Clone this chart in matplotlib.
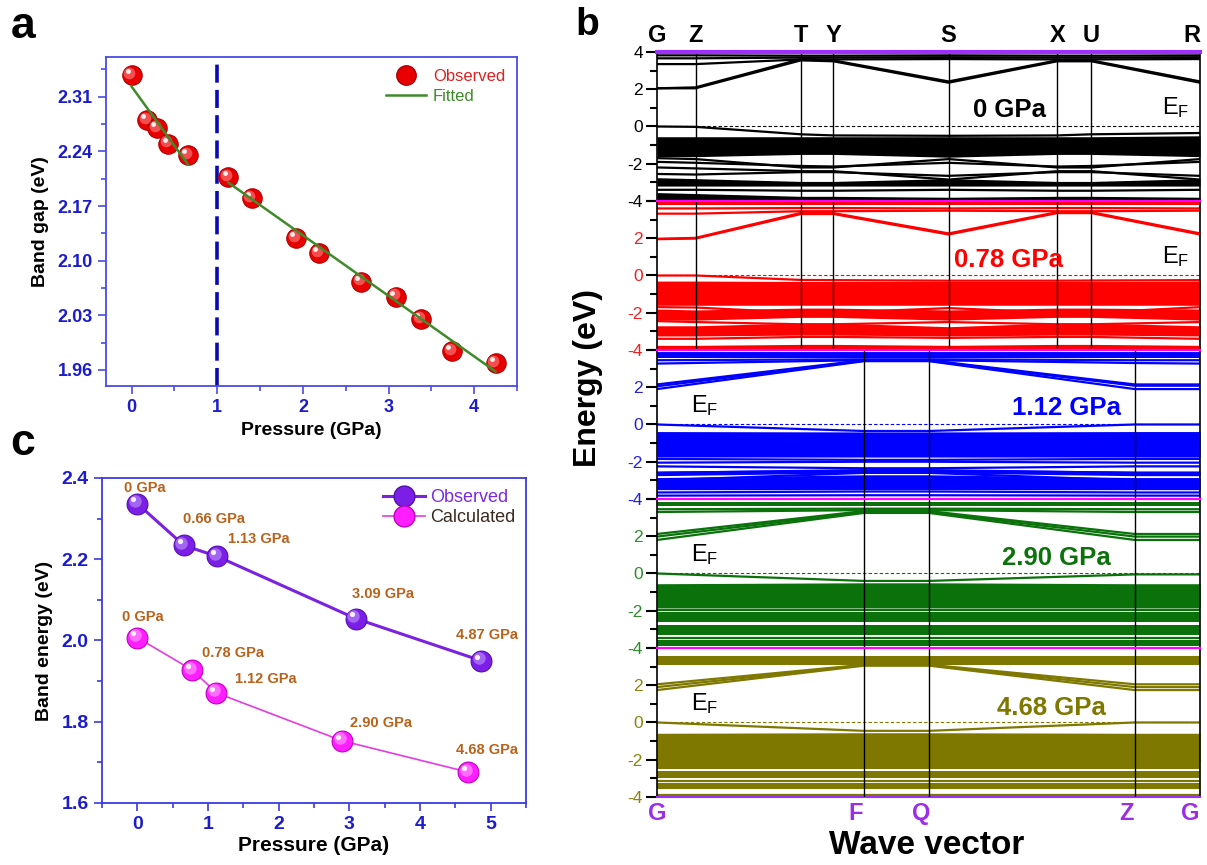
import numpy as np
import matplotlib
matplotlib.use("Agg")
import matplotlib.pyplot as plt
from matplotlib.transforms import offset_copy
from matplotlib.lines import Line2D
from matplotlib.ticker import MultipleLocator

plt.rcParams['font.family'] = ['Liberation Sans', 'DejaVu Sans']
plt.rcParams['mathtext.default'] = 'regular'

# ---- panel a: band gap vs pressure
p_obs = [0.0, 0.18, 0.30, 0.43, 0.66, 1.13, 1.40, 1.92, 2.19, 2.68, 3.09, 3.38, 3.74, 4.25]
gap_obs = [2.338, 2.280, 2.270, 2.250, 2.235, 2.207, 2.180, 2.129, 2.110, 2.073, 2.054, 2.025, 1.984, 1.969]
fit1_p = [0.0, 0.66]
fit1_gap = [2.323, 2.223]
fit2_p = [1.13, 4.25]
fit2_gap = [2.200, 1.958]
p_transition = 1.0

# ---- panel c: observed vs calculated band energy
pc_obs = [0.0, 0.66, 1.13, 3.09, 4.87]
ec_obs = [2.337, 2.234, 2.207, 2.054, 1.950]
lab_obs = ['0 GPa', '0.66 GPa', '1.13 GPa', '3.09 GPa', '4.87 GPa']
pc_calc = [0.0, 0.78, 1.12, 2.90, 4.68]
ec_calc = [2.007, 1.927, 1.871, 1.753, 1.676]
lab_calc = ['0 GPa', '0.78 GPa', '1.12 GPa', '2.90 GPa', '4.68 GPa']
# label offsets in pixels (layout only)
off_obs = [(7, 16), (30, 26), (42, 17), (27, 25), (6, 26)]
off_calc = [(5, 21), (41, 17), (49, 14), (39, 18), (19, 22)]

# ---- panel b: band structures, energies (eV) at high-symmetry points
kpath_a = [0.0, 0.071, 0.265, 0.325, 0.537, 0.737, 0.800, 1.0]
klab_a = ['G', 'Z', 'T', 'Y', 'S', 'X', 'U', 'R']
kpath_b = [0.0, 0.381, 0.501, 0.880, 1.0]
klab_b = ['G', 'F', 'Q', 'Z', 'G']

bands_0 = [
    [2.05, 2.05, 3.55, 3.50, 2.35, 3.50, 3.50, 2.35],
    [2.05, 2.10, 3.62, 3.55, 2.42, 3.55, 3.55, 2.42],
    [3.35, 3.35, 3.60, 3.60, 3.62, 3.60, 3.60, 3.62],
    [3.66, 3.66, 3.70, 3.70, 3.72, 3.70, 3.70, 3.72],
    [3.82, 3.82, 3.80, 3.80, 3.82, 3.80, 3.80, 3.82],
    [0.00, -0.02, -0.42, -0.48, -0.50, -0.48, -0.42, -0.35],
    [-1.70, -1.75, -2.20, -2.20, -1.75, -2.20, -2.20, -1.75],
    [-1.90, -1.95, -2.12, -2.15, -1.95, -2.15, -2.12, -1.90],
    [-2.20, -2.25, -2.40, -2.40, -2.85, -2.40, -2.40, -2.85],
    [-2.55, -2.58, -2.45, -2.45, -2.65, -2.45, -2.45, -2.65],
    [-3.40, -3.40, -3.45, -3.45, -3.40, -3.45, -3.45, -3.40],
]
blocks_0 = [
    ([-1.62, -1.62, -1.50, -1.50, -1.65, -1.50, -1.50, -1.62],
     [-0.55, -0.55, -0.55, -0.55, -0.55, -0.55, -0.55, -0.50]),
    ([-3.20, -3.20, -3.20, -3.20, -3.20, -3.20, -3.20, -3.20],
     [-2.75, -2.80, -2.95, -2.95, -2.80, -2.95, -2.95, -2.80]),
    ([-3.92, -3.92, -3.92, -3.92, -3.92, -3.92, -3.92, -3.92],
     [-3.55, -3.60, -3.75, -3.75, -3.80, -3.75, -3.75, -3.80]),
]

bands_078 = [
    [1.95, 1.98, 3.30, 3.30, 2.20, 3.35, 3.35, 2.20],
    [1.97, 2.02, 3.36, 3.35, 2.26, 3.40, 3.40, 2.26],
    [3.32, 3.32, 3.45, 3.45, 3.48, 3.45, 3.45, 3.48],
    [3.60, 3.60, 3.62, 3.62, 3.60, 3.62, 3.62, 3.60],
    [0.00, 0.00, -0.24, -0.25, -0.28, -0.28, -0.27, -0.25],
    [-1.70, -1.72, -2.00, -2.00, -1.75, -2.00, -2.00, -1.70],
    [-2.45, -2.50, -2.62, -2.62, -2.50, -2.62, -2.62, -2.50],
    [-3.40, -3.40, -3.30, -3.30, -3.35, -3.30, -3.30, -3.40],
]
blocks_078 = [
    ([3.78, 3.78, 3.78, 3.78, 3.78, 3.78, 3.78, 3.78],
     [3.97, 3.97, 3.97, 3.97, 3.97, 3.97, 3.97, 3.97]),
    ([-1.60, -1.60, -1.60, -1.60, -1.60, -1.60, -1.60, -1.60],
     [-0.30, -0.30, -0.32, -0.32, -0.32, -0.32, -0.32, -0.30]),
    ([-2.40, -2.40, -2.25, -2.25, -2.40, -2.25, -2.25, -2.40],
     [-1.80, -1.85, -1.75, -1.75, -1.85, -1.75, -1.75, -1.80]),
    ([-3.25, -3.25, -3.20, -3.20, -3.25, -3.20, -3.20, -3.25],
     [-2.70, -2.70, -2.55, -2.55, -2.75, -2.55, -2.55, -2.70]),
    ([-3.98, -3.98, -3.98, -3.98, -3.98, -3.98, -3.98, -3.98],
     [-3.75, -3.75, -3.70, -3.70, -3.75, -3.70, -3.70, -3.75]),
]

bands_112 = [
    [1.90, 3.40, 3.40, 1.90, 1.90],
    [2.15, 3.45, 3.45, 2.15, 2.15],
    [2.05, 3.42, 3.42, 2.08, 2.08],
    [3.27, 3.45, 3.45, 3.30, 3.27],
    [3.45, 3.50, 3.50, 3.45, 3.45],
    [0.00, -0.35, -0.35, 0.00, 0.00],
    [-1.85, -1.90, -1.90, -1.85, -1.85],
    [-2.05, -2.00, -2.00, -2.05, -2.05],
    [-2.25, -2.35, -2.35, -2.25, -2.25],
    [-2.60, -2.45, -2.45, -2.60, -2.60],
    [-3.00, -2.60, -2.60, -3.00, -3.00],
    [-3.65, -3.60, -3.60, -3.65, -3.65],
    [-3.82, -3.80, -3.80, -3.82, -3.82],
]
blocks_112 = [
    ([3.58, 3.58, 3.58, 3.58, 3.58], [3.88, 3.88, 3.88, 3.88, 3.88]),
    ([-1.75, -1.75, -1.75, -1.75, -1.75], [-0.38, -0.40, -0.40, -0.38, -0.38]),
    ([-2.75, -2.60, -2.60, -2.75, -2.75], [-2.50, -2.40, -2.40, -2.50, -2.50]),
    ([-3.50, -3.50, -3.50, -3.50, -3.50], [-2.85, -2.70, -2.70, -2.85, -2.85]),
]

bands_290 = [
    [1.80, 3.25, 3.25, 1.80, 1.80],
    [2.12, 3.35, 3.35, 2.12, 2.12],
    [1.98, 3.30, 3.30, 1.98, 1.98],
    [3.30, 3.40, 3.40, 3.30, 3.30],
    [3.45, 3.48, 3.48, 3.45, 3.45],
    [0.00, -0.40, -0.40, -0.05, -0.05],
    [-1.95, -1.95, -1.95, -1.95, -1.95],
    [-3.45, -3.45, -3.45, -3.45, -3.45],
]
blocks_290 = [
    ([3.60, 3.60, 3.60, 3.60, 3.60], [3.85, 3.85, 3.85, 3.85, 3.85]),
    ([-1.85, -1.85, -1.85, -1.85, -1.85], [-0.55, -0.50, -0.50, -0.55, -0.55]),
    ([-2.60, -2.60, -2.60, -2.60, -2.60], [-2.07, -2.07, -2.07, -2.07, -2.07]),
    ([-3.30, -3.30, -3.30, -3.30, -3.30], [-2.77, -2.77, -2.77, -2.77, -2.77]),
    ([-3.92, -3.92, -3.92, -3.92, -3.92], [-3.57, -3.57, -3.57, -3.57, -3.57]),
]

bands_468 = [
    [1.74, 3.05, 3.05, 1.74, 1.74],
    [2.05, 3.10, 3.10, 2.05, 2.05],
    [1.90, 3.08, 3.08, 1.90, 1.90],
    [0.00, -0.45, -0.45, 0.00, 0.00],
    [-2.18, -2.18, -2.18, -2.18, -2.18],
    [-3.15, -3.15, -3.15, -3.15, -3.15],
    [-3.92, -3.92, -3.92, -3.92, -3.92],
]
blocks_468 = [
    ([3.10, 3.10, 3.10, 3.10, 3.10], [3.55, 3.55, 3.55, 3.55, 3.55]),
    ([-2.10, -2.10, -2.10, -2.10, -2.10], [-0.58, -0.55, -0.55, -0.58, -0.58]),
    ([-2.50, -2.50, -2.50, -2.50, -2.50], [-2.25, -2.25, -2.25, -2.25, -2.25]),
    ([-3.00, -3.00, -3.00, -3.00, -3.00], [-2.60, -2.60, -2.60, -2.60, -2.60]),
    ([-3.57, -3.57, -3.57, -3.57, -3.57], [-3.25, -3.25, -3.25, -3.25, -3.25]),
]

band_titles = ['0 GPa', '0.78 GPa', '1.12 GPa', '2.90 GPa', '4.68 GPa']
band_colors = ['black', '#FF0000', '#0000FF', '#0B720B', '#7E7800']
tick_colors = ['black', '#F02020', '#2222E0', '#2E8B2E', '#8A8410']

# ---------------------------------------------------------------
fig = plt.figure(figsize=(12.07, 8.65), dpi=100)


def spheres(ax, x, y, color, edge, light, ms, z=3):
    ax.plot(x, y, 'o', ms=ms, color=color, mec=edge, mew=0.8, zorder=z)
    t1 = offset_copy(ax.transData, fig=fig, x=-ms * 0.12, y=ms * 0.12, units='points')
    ax.plot(x, y, 'o', ms=ms * 0.6, color=light, mec='none', alpha=0.55, transform=t1, zorder=z)
    t2 = offset_copy(ax.transData, fig=fig, x=-ms * 0.2, y=ms * 0.2, units='points')
    ax.plot(x, y, 'o', ms=ms * 0.25, color='white', mec='none', alpha=0.9, transform=t2, zorder=z)


def style_box(ax, spine_col, lab_col):
    for s in ax.spines.values():
        s.set_color(spine_col)
        s.set_linewidth(1.3)
    ax.tick_params(which='both', direction='out', color=spine_col, width=1.2,
                   labelcolor=lab_col, labelsize=13)
    ax.tick_params(which='major', length=6)
    ax.tick_params(which='minor', length=3.5)
    for lbl in ax.get_xticklabels() + ax.get_yticklabels():
        lbl.set_fontweight('bold')


# panel a
ax_a = fig.add_axes([0.0878, 0.5538, 0.3405, 0.3803])
spheres(ax_a, p_obs, gap_obs, '#E80000', '#B00000', '#FF9090', 14)
ax_a.plot(fit1_p, fit1_gap, color='#3F8A2A', lw=1.8, zorder=5)
ax_a.plot(fit2_p, fit2_gap, color='#3F8A2A', lw=1.8, zorder=5)
ax_a.axvline(p_transition, ymax=0.98, color='#0A0AB4', lw=2.6, ls=(0, (5, 2)), zorder=2)
ax_a.set_xlim(-0.3, 4.5)
ax_a.set_ylim(1.9395, 2.361)
ax_a.set_xticks([0, 1, 2, 3, 4])
ax_a.set_yticks([1.96, 2.03, 2.10, 2.17, 2.24, 2.31])
ax_a.set_yticklabels(['1.96', '2.03', '2.10', '2.17', '2.24', '2.31'])
ax_a.xaxis.set_minor_locator(MultipleLocator(0.5))
ax_a.yaxis.set_minor_locator(MultipleLocator(0.035))
style_box(ax_a, '#4A4AE6', '#1C1CCC')
ax_a.set_xlabel('Pressure (GPa)', fontsize=14, fontweight='bold', labelpad=4)
ax_a.set_ylabel('Band gap (eV)', fontsize=14, fontweight='bold', labelpad=6)
h1 = Line2D([], [], ls='none', marker='o', ms=14, color='#E80000', mec='#B00000')
h2 = Line2D([], [], color='#3F8A2A', lw=1.8)
leg = ax_a.legend([h1, h2], ['Observed', 'Fitted'], loc='upper right', frameon=False,
                  fontsize=12, handlelength=2.4, borderaxespad=0.3, labelspacing=0.3,
                  handletextpad=0.4)
for t, c in zip(leg.get_texts(), ['#E02020', '#3F8A2A']):
    t.set_color(c)

# panel c
ax_c = fig.add_axes([0.0845, 0.0717, 0.3513, 0.3757])
ax_c.plot(pc_obs, ec_obs, color='#7A22E0', lw=2.2, zorder=2)
ax_c.plot(pc_calc, ec_calc, color='#E23CE2', lw=1.2, zorder=2)
spheres(ax_c, pc_obs, ec_obs, '#7B1FE6', '#5010B0', '#C8A0FF', 15)
spheres(ax_c, pc_calc, ec_calc, '#FF1EFF', '#C000C0', '#FFB0FF', 15)
for x, y, s, o in zip(pc_obs, ec_obs, lab_obs, off_obs):
    ax_c.annotate(s, (x, y), xytext=o, textcoords='offset pixels', ha='center', va='center',
                  fontsize=10.5, fontweight='bold', color='#B8621B')
for x, y, s, o in zip(pc_calc, ec_calc, lab_calc, off_calc):
    ax_c.annotate(s, (x, y), xytext=o, textcoords='offset pixels', ha='center', va='center',
                  fontsize=10.5, fontweight='bold', color='#B8621B')
ax_c.set_xlim(-0.5, 5.5)
ax_c.set_ylim(1.6, 2.4)
ax_c.set_xticks([0, 1, 2, 3, 4, 5])
ax_c.set_yticks([1.6, 1.8, 2.0, 2.2, 2.4])
ax_c.xaxis.set_minor_locator(MultipleLocator(0.5))
ax_c.yaxis.set_minor_locator(MultipleLocator(0.1))
style_box(ax_c, '#3A3AE0', '#1C1CCC')
ax_c.tick_params(labelsize=14)
ax_c.set_xlabel('Pressure (GPa)', fontsize=15, fontweight='bold', labelpad=2)
ax_c.set_ylabel('Band energy (eV)', fontsize=14, fontweight='bold', labelpad=6)
h3 = Line2D([], [], color='#7A22E0', lw=2.2, marker='o', ms=15, mfc='#7B1FE6', mec='#5010B0')
h4 = Line2D([], [], color='#E23CE2', lw=1.2, marker='o', ms=15, mfc='#FF1EFF', mec='#C000C0')
leg = ax_c.legend([h3, h4], ['Observed', 'Calculated'], loc='upper right', frameon=False,
                  fontsize=13, handlelength=2.3, borderaxespad=0.2, labelspacing=0.2,
                  handletextpad=0.3)
for t, c in zip(leg.get_texts(), ['#7A2BE0', '#3A2A20']):
    t.set_color(c)

# panel b
panels = [
    (kpath_a, bands_0, blocks_0),
    (kpath_a, bands_078, blocks_078),
    (kpath_b, bands_112, blocks_112),
    (kpath_b, bands_290, blocks_290),
    (kpath_b, bands_468, blocks_468),
]
h = 0.17225
axes_b = []
for i, (kp, bands, blocks) in enumerate(panels):
    ax = fig.add_axes([0.5443, 0.9399 - (i + 1) * h, 0.4499, h])
    axes_b.append(ax)
    col = band_colors[i]
    for lo, hi in blocks:
        ax.fill_between(kp, lo, hi, color=col, lw=0, zorder=1)
    for e in bands:
        ax.plot(kp, e, color=col, lw=1.6, zorder=2)
    ax.axhline(0, color=col, lw=0.8, ls=(0, (3, 2)), zorder=2)
    for kk in kp[1:-1]:
        ax.axvline(kk, color='black', lw=1.0, zorder=3)
    ax.set_xlim(0, 1)
    ax.set_ylim(-4, 4)
    ax.set_xticks([])
    ax.set_yticks([-4, -2, 0, 2, 4])
    ax.set_yticklabels(['-4', '-2', '0', '2', '4' if i == 0 else ''])
    ax.yaxis.set_minor_locator(MultipleLocator(1))
    ax.tick_params(axis='y', which='both', direction='out', color='black', width=1.5,
                   labelcolor=tick_colors[i], labelsize=12.5, pad=2)
    ax.tick_params(axis='y', which='major', length=8)
    ax.tick_params(axis='y', which='minor', length=5)
    for s in ['left', 'right']:
        ax.spines[s].set_color('black')
        ax.spines[s].set_linewidth(1.2)
    ax.spines['top'].set_color('#9B30FF' if i == 0 else '#FF00FF')
    ax.spines['top'].set_linewidth(3 if i == 0 else 1.6)
    ax.spines['top'].set_zorder(4)
    if i == 4:
        ax.spines['bottom'].set_color('#9B30FF')
        ax.spines['bottom'].set_linewidth(1.5)
    else:
        ax.spines['bottom'].set_visible(False)
    ax.patch.set_alpha(0)

    # pressure and Fermi level tags
    tx = [0.65, 0.647, 0.754, 0.735, 0.727][i]
    ty = [0.9, 0.83, 0.89, 0.83, 0.78][i]
    ax.text(tx, ty, band_titles[i], transform=ax.get_yaxis_transform(), ha='center',
            va='center', fontsize=18.5, fontweight='bold', color=col, zorder=5)
    ex = 0.956 if i < 2 else 0.088
    ax.text(ex, 1.0, r'E$_F$', transform=ax.get_yaxis_transform(), ha='center', va='center',
            fontsize=17, color='black', zorder=5)

for kk, lab in zip(kpath_a, klab_a):
    axes_b[0].text(kk, 1.114, lab, transform=axes_b[0].get_xaxis_transform(),
                   ha='right' if kk == 1.0 else 'center', va='center', fontsize=17,
                   fontweight='bold', color='black')
for kk, lab in zip(kpath_b, klab_b):
    axes_b[4].text(kk - 0.015 if 0 < kk < 1 else kk, -0.114, lab,
                   transform=axes_b[4].get_xaxis_transform(),
                   ha='right' if kk == 1.0 else 'center', va='center', fontsize=17,
                   fontweight='bold', color='#9B2FE8')

fig.text(588 / 1207, 1 - 378 / 865, 'Energy (eV)', rotation=90, ha='center', va='center',
         fontsize=23, fontweight='bold')
fig.text(927 / 1207, 1 - 846 / 865, 'Wave vector', ha='center', va='center',
         fontsize=24, fontweight='bold')

fig.text(23 / 1207, 1 - 27 / 865, 'a', ha='center', va='center', fontsize=32, fontweight='bold')
fig.text(587 / 1207, 1 - 25 / 865, 'b', ha='center', va='center', fontsize=28, fontweight='bold')
fig.text(23 / 1207, 1 - 444 / 865, 'c', ha='center', va='center', fontsize=32, fontweight='bold')

fig.savefig('out.png', dpi=100)
